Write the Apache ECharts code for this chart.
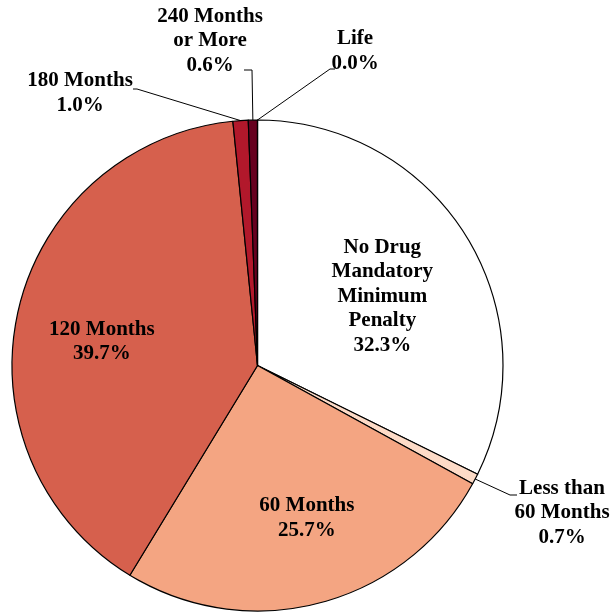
<!DOCTYPE html>
<html>
<head>
<meta charset="utf-8">
<script src="https://cdn.jsdelivr.net/npm/echarts@6/dist/echarts.min.js"></script>
<style>
  html, body { margin: 0; padding: 0; background: #fff; }
  #chart { width: 611px; height: 613px; }
</style>
</head>
<body>
<div id="chart"></div>
<script>
// 毒品强制最低刑期分布(饼图),顺时针从 12 点开始
const names = [
  "No Drug\nMandatory\nMinimum\nPenalty",
  "Less than\n60 Months",
  "60 Months",
  "120 Months",
  "180 Months",
  "240 Months\nor More",
  "Life"
];
const values = [32.3, 0.7, 25.7, 39.7, 1.0, 0.6, 0.0];
const colors = ["#ffffff", "#fddbc7", "#f4a582", "#d6604d", "#b2182b", "#67001f", "#2a0010"];

// 标签摆放:内部标签用偏移,外部标签给出文字中心和折线拐点
const insideOffset = [[18, -3], null, [17, 31], [-33, 4], null, null, null];
const outsideLabel = {
  1: { cx: 562, cy: 513, elbow: [510, 495], end: [517, 495] },
  4: { cx: 80, cy: 93, elbow: [137, 89], end: [133, 89] },
  5: { cx: 210, cy: 41, elbow: [252, 70], end: [244, 70] },
  6: { cx: 355, cy: 51, elbow: [330, 69], end: [335, 69] }
};

const font = { fontFamily: "Liberation Serif", fontWeight: "bold", fontSize: 21, lineHeight: 24.5, color: "#000" };

const data = names.map((n, i) => {
  const item = {
    name: n,
    value: values[i],
    itemStyle: { color: colors[i] }
  };
  if (insideOffset[i]) {
    item.label = { position: "inside", offset: insideOffset[i] };
    item.labelLine = { show: false };
  } else {
    item.label = { position: "outside" };
    item.labelLine = { show: true, length: 20, length2: 10 };
  }
  return item;
});

const chart = echarts.init(document.getElementById("chart"), null, { renderer: "canvas" });
chart.setOption({
  animation: false,
  series: [{
    type: "pie",
    center: [257.5, 365.5],
    radius: 245.5,
    startAngle: 90,
    clockwise: true,
    avoidLabelOverlap: false,
    stillShowZeroSum: true,
    itemStyle: { borderColor: "#000", borderWidth: 1.2 },
    label: Object.assign({ formatter: p => `${p.name}\n${values[p.dataIndex].toFixed(1)}%`, align: "center" }, font),
    labelLine: { lineStyle: { color: "#000", width: 1 } },
    emphasis: { disabled: true },
    labelLayout: p => {
      const o = outsideLabel[p.dataIndex];
      if (!o) return {};
      const start = p.labelLinePoints ? p.labelLinePoints[0] : o.elbow;
      return {
        x: o.cx,
        y: o.cy,
        align: "center",
        verticalAlign: "middle",
        labelLinePoints: [start, o.elbow, o.end]
      };
    },
    data: data
  }]
});
</script>
</body>
</html>
